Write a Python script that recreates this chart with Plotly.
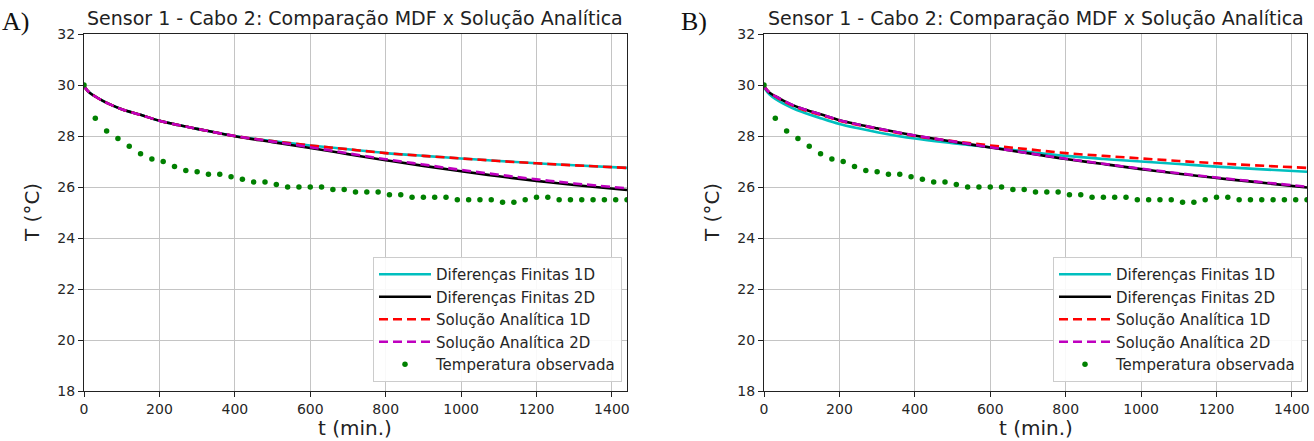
import plotly.graph_objects as go

# ---------------- data ----------------
t_model = [0, 5, 15, 30, 50, 75, 100, 150, 200, 250, 300, 400, 500, 600,
           700, 800, 900, 1000, 1100, 1200, 1300, 1440]

# Panel A
fd1d_A = [30.0, 29.85, 29.70, 29.55, 29.38, 29.20, 29.05, 28.83, 28.60, 28.43, 28.28,
          28.00, 27.80, 27.63, 27.48, 27.33, 27.22, 27.12, 27.02, 26.93, 26.85, 26.75]
fd2d_A = [30.0, 29.85, 29.70, 29.55, 29.38, 29.20, 29.05, 28.83, 28.60, 28.43, 28.28,
          27.99, 27.76, 27.53, 27.29, 27.05, 26.83, 26.62, 26.42, 26.24, 26.08, 25.88]
an1d_A = [30.0, 29.85, 29.70, 29.55, 29.38, 29.20, 29.05, 28.83, 28.60, 28.43, 28.28,
          28.00, 27.80, 27.63, 27.48, 27.33, 27.22, 27.12, 27.02, 26.93, 26.85, 26.75]
an2d_A = [30.0, 29.85, 29.70, 29.55, 29.38, 29.20, 29.05, 28.83, 28.60, 28.43, 28.28,
          28.00, 27.78, 27.56, 27.32, 27.09, 26.88, 26.67, 26.48, 26.30, 26.14, 25.95]

# Panel B
fd1d_B = [30.0, 29.80, 29.62, 29.45, 29.28, 29.10, 28.95, 28.70, 28.47, 28.30, 28.15,
          27.90, 27.72, 27.56, 27.38, 27.22, 27.10, 27.00, 26.90, 26.80, 26.71, 26.60]
fd2d_B = [30.0, 29.85, 29.70, 29.56, 29.40, 29.22, 29.08, 28.85, 28.62, 28.45, 28.30,
          28.02, 27.78, 27.55, 27.32, 27.10, 26.90, 26.70, 26.52, 26.35, 26.20, 25.98]
an1d_B = [30.0, 29.85, 29.70, 29.55, 29.38, 29.20, 29.05, 28.83, 28.60, 28.43, 28.28,
          28.00, 27.80, 27.63, 27.48, 27.33, 27.22, 27.12, 27.02, 26.93, 26.85, 26.75]
an2d_B = [30.0, 29.85, 29.70, 29.56, 29.40, 29.22, 29.08, 28.85, 28.62, 28.45, 28.30,
          28.02, 27.79, 27.56, 27.33, 27.11, 26.91, 26.72, 26.54, 26.37, 26.22, 26.01]

# Observations (every 30 min)
t_obs = [0, 30, 60, 90, 120, 150, 180, 210, 240, 270, 300, 330, 360, 390, 420, 450,
         480, 510, 540, 570, 600, 630, 660, 690, 720, 750, 780, 810, 840, 870, 900,
         930, 960, 990, 1020, 1050, 1080, 1110, 1140, 1170, 1200, 1230, 1260, 1290,
         1320, 1350, 1380, 1410, 1440]
T_obs = [30.0, 28.7, 28.2, 27.9, 27.6, 27.3, 27.1, 27.0, 26.8, 26.65, 26.6, 26.5,
         26.5, 26.4, 26.3, 26.2, 26.2, 26.1, 26.0, 26.0, 26.0, 26.0, 25.9, 25.9,
         25.8, 25.8, 25.8, 25.7, 25.7, 25.6, 25.6, 25.6, 25.6, 25.5, 25.5, 25.5,
         25.5, 25.4, 25.4, 25.5, 25.6, 25.6, 25.5, 25.5, 25.5, 25.5, 25.5, 25.5, 25.5]

x_ticks = [0, 200, 400, 600, 800, 1000, 1200, 1400]
y_ticks = [18, 20, 22, 24, 26, 28, 30, 32]

names = ["Diferenças Finitas 1D", "Diferenças Finitas 2D",
         "Solução Analítica 1D", "Solução Analítica 2D", "Temperatura observada"]
title_text = "Sensor 1 - Cabo 2: Comparação MDF x Solução Analítica"
x_title = "t (min.)"
y_title = "T (°C)"
panel_labels = ["A)", "B)"]

# ---------------- figure ----------------
W, H = 1314, 441
fig = go.Figure()

CYAN, BLACK, RED, MAG, GREEN = "#00BFBF", "#000000", "#FF0000", "#BF00BF", "#008000"
LW = 2.6
DASH = "9px,5px"

panels = [
    ("x", "y", "legend", fd1d_A, fd2d_A, an1d_A, an2d_A),
    ("x2", "y2", "legend2", fd1d_B, fd2d_B, an1d_B, an2d_B),
]
for xa, ya, lg, fd1, fd2, an1, an2 in panels:
    fig.add_trace(go.Scatter(x=t_model, y=fd1, mode="lines", name=names[0],
                             line=dict(color=CYAN, width=LW, shape="spline"),
                             xaxis=xa, yaxis=ya, legend=lg))
    fig.add_trace(go.Scatter(x=t_model, y=fd2, mode="lines", name=names[1],
                             line=dict(color=BLACK, width=LW, shape="spline"),
                             xaxis=xa, yaxis=ya, legend=lg))
    fig.add_trace(go.Scatter(x=t_model, y=an1, mode="lines", name=names[2],
                             line=dict(color=RED, width=LW, dash=DASH, shape="spline"),
                             xaxis=xa, yaxis=ya, legend=lg))
    fig.add_trace(go.Scatter(x=t_model, y=an2, mode="lines", name=names[3],
                             line=dict(color=MAG, width=LW, dash=DASH, shape="spline"),
                             xaxis=xa, yaxis=ya, legend=lg))
    fig.add_trace(go.Scatter(x=t_obs, y=T_obs, mode="markers", name=names[4],
                             marker=dict(color=GREEN, size=5.5),
                             xaxis=xa, yaxis=ya, legend=lg))

def px_x(p):
    return p / W

def px_y(p):
    return 1 - p / H

PLOT_TOP, PLOT_BOTTOM = 34, 391
y_dom = [px_y(PLOT_BOTTOM), px_y(PLOT_TOP)]
x_dom1 = [px_x(84), px_x(627)]
x_dom2 = [px_x(764), px_x(1307)]

TEXT = "#262626"
axis_common = dict(showgrid=True, gridcolor="#c4c4c4", gridwidth=1, automargin=False,
                   showline=True, linecolor="#222222", linewidth=1.2, mirror=True,
                   ticks="outside", ticklen=5, tickcolor="#222222", zeroline=False,
                   tickfont=dict(family="DejaVu Sans", size=14, color=TEXT))

fig.update_layout(
    width=W, height=H,
    margin=dict(l=0, r=0, t=0, b=0, pad=0, autoexpand=False),
    paper_bgcolor="white", plot_bgcolor="white",
    showlegend=True,
    xaxis=dict(domain=x_dom1, anchor="y", range=[0, 1440], tickvals=x_ticks, **axis_common),
    yaxis=dict(domain=y_dom, anchor="x", range=[18, 32], tickvals=y_ticks, **axis_common),
    xaxis2=dict(domain=x_dom2, anchor="y2", range=[0, 1440], tickvals=x_ticks, **axis_common),
    yaxis2=dict(domain=y_dom, anchor="x2", range=[18, 32], tickvals=y_ticks, **axis_common),
)

legend_common = dict(bgcolor="rgba(255,255,255,0.9)", bordercolor="#cccccc", borderwidth=1,
                     font=dict(family="DejaVu Sans", size=15, color=TEXT),
                     xanchor="right", yanchor="bottom", tracegroupgap=0, itemwidth=52)
fig.update_layout(
    legend=dict(x=px_x(622), y=px_y(382), **legend_common),
    legend2=dict(x=px_x(1302), y=px_y(382), **legend_common),
)

for xd, ylab_x in ((x_dom1, 32), (x_dom2, 712)):
    xc = (xd[0] + xd[1]) / 2
    fig.add_annotation(text=title_text, xref="paper", yref="paper",
                       x=xc, y=px_y(PLOT_TOP), yanchor="bottom", xanchor="center",
                       showarrow=False, yshift=3,
                       font=dict(family="DejaVu Sans", size=19, color="#222222"))
    fig.add_annotation(text=x_title, xref="paper", yref="paper",
                       x=xc, y=px_y(428), yanchor="middle", xanchor="center",
                       showarrow=False,
                       font=dict(family="DejaVu Sans", size=20, color="#222222"))
    fig.add_annotation(text=y_title, xref="paper", yref="paper", textangle=-90,
                       x=px_x(ylab_x), y=px_y(213), yanchor="middle", xanchor="center",
                       showarrow=False,
                       font=dict(family="DejaVu Sans", size=20, color="#222222"))

fig.add_annotation(text=panel_labels[0], xref="paper", yref="paper", x=0, y=px_y(21),
                   xanchor="left", yanchor="middle", showarrow=False,
                   font=dict(family="Liberation Serif", size=26, color="#111"))
fig.add_annotation(text=panel_labels[1], xref="paper", yref="paper", x=px_x(679), y=px_y(21),
                   xanchor="left", yanchor="middle", showarrow=False,
                   font=dict(family="Liberation Serif", size=26, color="#111"))

fig.write_html("out.html")
